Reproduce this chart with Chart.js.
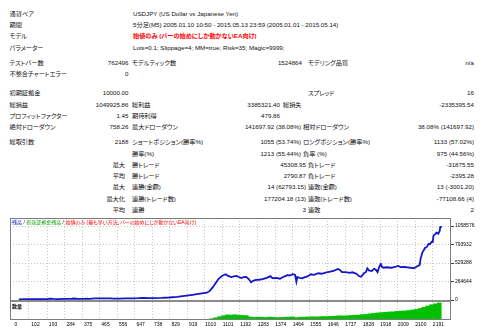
<!DOCTYPE html>
<html>
<head>
<meta charset="utf-8">
<script src="https://cdn.jsdelivr.net/npm/chart.js@4.4.0/dist/chart.umd.min.js"></script>
<style>
html, body { margin: 0; padding: 0; background: #fff; }
body {
    position: relative; width: 480px; height: 335px; overflow: hidden;
    font-family: "Liberation Sans", "Noto Sans CJK JP", sans-serif;
    font-size: 6.2px; color: #111;
    font-feature-settings: "palt";
}
.r { position: absolute; left: 0; width: 480px; height: 10px; line-height: 10px; white-space: nowrap; }
.r span { position: absolute; top: 0; }
.a   { left: 9.5px; }
.t   { left: 133px; }
.v1  { right: 351.5px; }
.m   { right: 355px; }
.k2  { left: 132px; }
.v2  { right: 178px; }
.v2n { right: 179px; }
.v2w { right: 174px; }
.v2b { right: 200px; }
.k2b { left: 283px; }
.k3  { left: 308px; }
.k3n { left: 303px; }
.v3  { right: 6px; }
.red { color: #f00; font-weight: bold; }
#c { position: absolute; left: 0; top: 214px; }
.lg { position: absolute; left: 12px; font-size: 5px; line-height: 6px; white-space: nowrap; }
</style>
</head>
<body>

<div class="r" style="top:9px"><span class="a">通貨ペア</span><span class="t">USDJPY (US Dollar vs Japanese Yen)</span></div>
<div class="r" style="top:20px"><span class="a">期間</span><span class="t">5分足(M5) 2005.01.10 10:50 - 2015.05.13 23:59 (2005.01.01 - 2015.05.14)</span></div>
<div class="r" style="top:31px"><span class="a">モデル</span><span class="t red">始値のみ (バーの始めにしか動かないEA向け)</span></div>
<div class="r" style="top:42.5px"><span class="a">パラメーター</span><span class="t">Lots=0.1; Slippage=4; MM=true; Risk=35; Magic=9999;</span></div>
<div class="r" style="top:57.5px"><span class="a">テストバー数</span><span class="v1">762496</span><span class="k2">モデルティック数</span><span class="v2">1524864</span><span class="k3">モデリング品質</span><span class="v3">n/a</span></div>
<div class="r" style="top:69px"><span class="a">不整合チャートエラー</span><span class="v1">0</span></div>

<div class="r" style="top:88px"><span class="a">初期証拠金</span><span class="v1">10000.00</span><span class="k3">スプレッド</span><span class="v3">16</span></div>
<div class="r" style="top:100px"><span class="a">総損益</span><span class="v1">1049925.86</span><span class="k2">総利益</span><span class="v2b">3385321.40</span><span class="k2b">総損失</span><span class="v3">-2335395.54</span></div>
<div class="r" style="top:111px"><span class="a">プロフィットファクター</span><span class="v1">1.45</span><span class="k2">期待利得</span><span class="v2b">479.86</span></div>
<div class="r" style="top:122px"><span class="a">絶対ドローダウン</span><span class="v1">758.26</span><span class="k2">最大ドローダウン</span><span class="v2n">141697.92 (38.08%)</span><span class="k3n">相対ドローダウン</span><span class="v3">38.08% (141697.92)</span></div>

<div class="r" style="top:137px"><span class="a">総取引数</span><span class="v1">2188</span><span class="k2">ショートポジション(勝率%)</span><span class="v2n">1055 (53.74%)</span><span class="k3n">ロングポジション(勝率%)</span><span class="v3">1133 (57.02%)</span></div>
<div class="r" style="top:148.5px"><span class="k2">勝率(%)</span><span class="v2n">1213 (55.44%)</span><span class="k3n">負率 (%)</span><span class="v3">975 (44.56%)</span></div>
<div class="r" style="top:160px"><span class="m">最大</span><span class="k2">勝トレード</span><span class="v2w">45308.95</span><span class="k3">負トレード</span><span class="v3">-31875.55</span></div>
<div class="r" style="top:171px"><span class="m">平均</span><span class="k2">勝トレード</span><span class="v2w">2790.87</span><span class="k3">負トレード</span><span class="v3">-2395.28</span></div>
<div class="r" style="top:182px"><span class="m">最大</span><span class="k2">連勝(金額)</span><span class="v2w">14 (62793.15)</span><span class="k3">連敗(金額)</span><span class="v3">13 (-3001.20)</span></div>
<div class="r" style="top:193.5px"><span class="m">最大化</span><span class="k2">連勝(トレード数)</span><span class="v2w">177204.18 (13)</span><span class="k3">連敗(トレード数)</span><span class="v3">-77108.66 (4)</span></div>
<div class="r" style="top:205px"><span class="m">平均</span><span class="k2">連勝</span><span class="v2w">3</span><span class="k3">連敗</span><span class="v3">2</span></div>

<canvas id="c" width="480" height="121"></canvas>

<div class="lg" style="top:219px"><span style="color:#0000c8">残高</span> / <span style="color:#00a000">有効証拠金残高</span> / <span style="color:#f00">始値のみ (最も早い方法、バーの始めにしか動かないEA向け)</span></div>
<div class="lg" style="top:303px;font-weight:bold">数量</div>

<script>
/* Balance curve, sampled by trade number */
const tradeNo = [
    0, 40, 80, 120, 150, 165, 180, 200, 240, 275,
    290, 305, 340, 350, 365, 395, 420, 450, 475, 490,
    520, 555, 590, 620, 640, 660, 700, 740, 780, 820,
    860, 900, 940, 975, 990, 1005, 1020, 1035, 1053, 1066,
    1073, 1085, 1095, 1103, 1115, 1128, 1140, 1154, 1165, 1179,
    1192, 1204, 1215, 1229, 1245, 1264, 1285, 1304, 1312, 1319,
    1335, 1354, 1370, 1385, 1394, 1405, 1419, 1432, 1439, 1444,
    1455, 1469, 1480, 1494, 1505, 1514, 1530, 1554, 1570, 1595,
    1615, 1635, 1655, 1665, 1675, 1695, 1715, 1730, 1750, 1765,
    1775, 1790, 1800, 1807, 1815, 1830, 1842, 1852, 1860, 1868,
    1877, 1884, 1892, 1906, 1930, 1950, 1965, 1980, 2000, 2015,
    2030, 2050, 2066, 2078, 2083, 2092, 2100, 2106, 2115, 2125,
    2132, 2140, 2146, 2150, 2158, 2165, 2175, 2182, 2185, 2188
];
const balance = [
    10000, 10800, 11900, 12600, 14200, 19500, 16000, 13800, 15200, 18000,
    21500, 17000, 16500, 21000, 17500, 22500, 23800, 22800, 24000, 19000,
    20500, 22000, 23500, 26500, 31000, 28500, 27000, 30000, 36000, 45000,
    60000, 74000, 90000, 104000, 130000, 180000, 240000, 300000, 345000, 362000,
    368000, 345000, 335000, 328000, 340000, 345000, 330000, 315000, 328000, 332000,
    300000, 254000, 275000, 288000, 290000, 298000, 318000, 342000, 320000, 312000,
    318000, 305000, 330000, 345000, 358000, 350000, 370000, 362000, 262000, 330000,
    318000, 311000, 325000, 334000, 352000, 368000, 360000, 383000, 376000, 397000,
    405000, 420000, 444000, 430000, 401000, 398000, 390000, 397000, 377000, 340000,
    334000, 383000, 401000, 454000, 425000, 415000, 448000, 430000, 397000, 470000,
    515000, 470000, 462000, 469000, 462000, 473000, 487000, 472000, 473000, 469000,
    462000, 458000, 483000, 500000, 590000, 680000, 716000, 745000, 760000, 805000,
    800000, 835000, 830000, 925000, 940000, 965000, 950000, 990000, 1045000, 1059926
];

/* Position size (lots), one bar per 20 trades */
const SIZE_STEP = 20;
const sizeLots = [
    0.1, 0.1, 0.1, 0.1, 0.1, 0.1, 0.1, 0.2, 0.2, 0.1,
    0.1, 0.1, 0.2, 0.1, 0.2, 0.2, 0.1, 0.2, 0.2, 0.2,
    0.2, 0.2, 0.2, 0.2, 0.2, 0.1, 0.2, 0.2, 0.2, 0.2,
    0.2, 0.3, 0.3, 0.3, 0.3, 0.3, 0.3, 0.3, 0.4, 0.4,
    0.4, 0.5, 0.6, 0.8, 1.0, 1.3, 1.6, 2.0, 2.6, 3.4,
    7, 12, 18, 23, 28, 27, 29, 26, 25, 24,
    17, 15, 16, 15, 14, 16, 15, 13, 14, 15,
    16, 17, 13, 15, 16, 17, 18, 17, 18, 19,
    19, 20, 21, 23, 22, 23, 25, 26, 27, 29,
    31, 34, 36, 39, 41, 42, 44, 45, 47, 49,
    50, 52, 55, 58, 63, 70, 77, 84, 89, 94
];

/* Axis labels */
const xTicks = [0, 102, 193, 284, 375, 465, 556, 647, 738, 829, 919, 1010, 1101,
    1192, 1283, 1374, 1464, 1555, 1646, 1737, 1828, 1918, 2009, 2100, 2191];
const yTicks = [0, 264644, 529288, 793932, 1058576];

const axisFont = { family: 'Liberation Sans', size: 5 };

/* Panel frame and the bar between the balance and size panels */
const framePlugin = {
    id: 'frame',
    afterDraw(chart) {
        const { ctx, chartArea: a, scales } = chart;
        ctx.save();
        ctx.fillStyle = '#8a8a8a';
        ctx.fillRect(a.left, scales.y.bottom, a.right - a.left, 2);
        ctx.strokeStyle = '#7c7c7c';
        ctx.lineWidth = 1;
        ctx.strokeRect(a.left + 0.5, a.top + 0.5, a.right - a.left - 1, a.bottom - a.top - 1);
        ctx.restore();
    }
};

new Chart(document.getElementById('c'), {
    type: 'line',
    data: {
        datasets: [{
            type: 'line',
            label: '残高',
            data: tradeNo.map((t, i) => ({ x: t, y: balance[i] })),
            yAxisID: 'y',
            borderColor: '#1616c8',
            borderWidth: 1.8,
            pointRadius: 0,
            fill: false,
            tension: 0
        }, {
            type: 'bar',
            label: '数量',
            data: sizeLots.map((v, i) => ({ x: i * SIZE_STEP, y: v })),
            yAxisID: 'size',
            backgroundColor: '#00c000',
            borderWidth: 0,
            barPercentage: 1,
            categoryPercentage: 1
        }]
    },
    options: {
        responsive: false,
        animation: false,
        layout: { padding: { left: 10, top: 4, right: 0, bottom: 0 } },
        plugins: {
            legend: { display: false },
            tooltip: { enabled: false }
        },
        scales: {
            x: {
                type: 'linear',
                min: 0,
                max: 2195,
                afterBuildTicks: s => { s.ticks = xTicks.map(v => ({ value: v })); },
                afterFit: s => { s.height = 15; },
                grid: { color: '#c4c4c4', drawTicks: false },
                border: { display: false, dash: [1, 2] },
                ticks: {
                    autoSkip: false, maxRotation: 0, padding: 2, labelOffset: -3,
                    color: '#000', font: axisFont,
                    callback: v => String(v)
                }
            },
            y: {
                type: 'linear',
                position: 'right',
                stack: 'panels',
                stackWeight: 82,
                min: 0,
                max: 1175000,
                afterBuildTicks: s => { s.ticks = yTicks.map(v => ({ value: v })); },
                afterFit: s => { s.width = 29; },
                grid: { color: '#c4c4c4', tickColor: '#404040', tickLength: 3 },
                border: { display: false, dash: [1, 2] },
                ticks: { padding: 1, color: '#000', font: axisFont, callback: v => String(v) }
            },
            size: {
                type: 'linear',
                position: 'right',
                stack: 'panels',
                stackWeight: 20,
                min: 0,
                max: 110,
                afterFit: s => { s.width = 29; },
                grid: { display: false },
                border: { display: false },
                ticks: { display: false }
            }
        }
    },
    plugins: [framePlugin]
});
</script>
</body>
</html>
